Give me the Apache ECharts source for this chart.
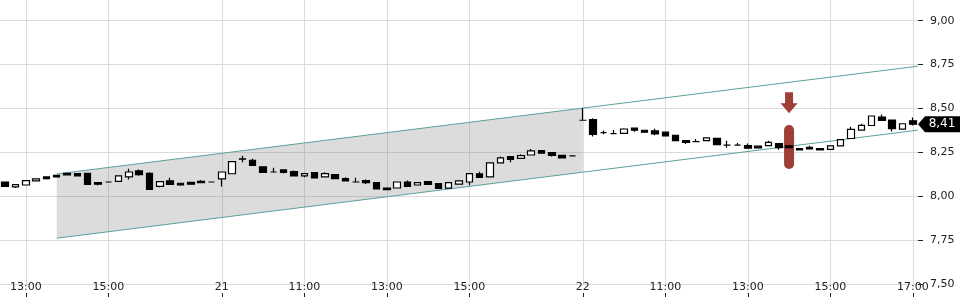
<!DOCTYPE html>
<html><head><meta charset="utf-8">
<script src="https://cdn.jsdelivr.net/npm/echarts@6/dist/echarts.min.js"></script>
<style>html,body{margin:0;padding:0;background:#fff}#c{width:960px;height:300px}</style>
</head><body><div id="c"></div>
<script>
const day20 = ['12:30','12:45','13:00','13:15','13:30','13:45','14:00','14:15','14:30','14:45','15:00','15:15','15:30','15:45','16:00','16:15','16:30','16:45','17:00','17:15','17:30'];
const day21 = ['09:00','09:15','09:30','09:45','10:00','10:15','10:30','10:45','11:00','11:15','11:30','11:45','12:00','12:15','12:30','12:45','13:00','13:15','13:30','13:45','14:00','14:15','14:30','14:45','15:00','15:15','15:30','15:45','16:00','16:15','16:30','16:45','17:00','17:15','17:30'];
const day22 = ['09:00','09:15','09:30','09:45','10:00','10:15','10:30','10:45','11:00','11:15','11:30','11:45','12:00','12:15','12:30','12:45','13:00','13:15','13:30','13:45','14:00','14:15','14:30','14:45','15:00','15:15','15:30','15:45','16:00','16:15','16:30','16:45','17:00'];
const times = [].concat(day20.map(t => '20 ' + t), day21.map(t => '21 ' + t), day22.map(t => '22 ' + t));

const opens  = [8.081,8.053,8.064,8.087,8.110,8.119,8.130,8.129,8.130,8.077,8.081,8.085,8.110,8.144,8.130,8.056,8.087,8.074,8.079,8.085,8.081,
  8.099,8.128,8.213,8.205,8.167,8.138,8.150,8.140,8.116,8.134,8.110,8.123,8.100,8.081,8.089,8.077,8.047,8.047,8.081,8.064,8.083,8.072,8.046,8.069,8.081,8.127,8.110,8.190,8.226,8.216,8.235,8.260,8.248,8.233,8.230,
  8.433,8.437,8.362,8.357,8.358,8.388,8.376,8.372,8.365,8.347,8.317,8.311,8.317,8.330,8.291,8.291,8.289,8.285,8.288,8.300,8.287,8.271,8.279,8.271,8.267,8.287,8.329,8.377,8.403,8.451,8.434,8.382,8.430];
const closes = [8.056,8.066,8.089,8.099,8.100,8.110,8.122,8.116,8.068,8.069,8.081,8.116,8.138,8.123,8.039,8.083,8.068,8.065,8.069,8.077,8.081,
  8.138,8.197,8.212,8.176,8.136,8.138,8.136,8.116,8.129,8.104,8.129,8.100,8.087,8.081,8.077,8.042,8.038,8.081,8.056,8.077,8.068,8.045,8.077,8.088,8.129,8.108,8.190,8.218,8.210,8.231,8.258,8.245,8.233,8.218,8.230,
  8.433,8.353,8.362,8.357,8.383,8.376,8.365,8.355,8.344,8.317,8.307,8.311,8.332,8.294,8.291,8.291,8.274,8.276,8.307,8.277,8.277,8.264,8.269,8.264,8.287,8.322,8.381,8.404,8.457,8.432,8.385,8.413,8.410];
const lows   = [8.055,8.047,8.064,8.087,8.096,8.108,8.121,8.116,8.068,8.062,8.081,8.085,8.096,8.117,8.039,8.051,8.068,8.060,8.066,8.077,8.081,
  8.056,8.128,8.193,8.176,8.136,8.138,8.129,8.116,8.108,8.104,8.110,8.100,8.087,8.081,8.070,8.042,8.038,8.047,8.056,8.064,8.068,8.045,8.046,8.069,8.062,8.108,8.110,8.190,8.193,8.216,8.235,8.245,8.227,8.218,8.230,
  8.433,8.340,8.353,8.357,8.358,8.368,8.361,8.347,8.344,8.317,8.298,8.311,8.317,8.294,8.276,8.288,8.271,8.276,8.288,8.265,8.277,8.264,8.269,8.264,8.267,8.287,8.329,8.377,8.403,8.432,8.369,8.382,8.403];
const highs  = [8.081,8.066,8.089,8.102,8.110,8.119,8.130,8.129,8.130,8.077,8.081,8.116,8.157,8.152,8.136,8.083,8.106,8.074,8.082,8.093,8.081,
  8.138,8.199,8.231,8.214,8.167,8.163,8.150,8.146,8.129,8.134,8.136,8.123,8.108,8.106,8.096,8.077,8.047,8.081,8.089,8.077,8.083,8.072,8.077,8.088,8.129,8.140,8.190,8.227,8.226,8.239,8.269,8.260,8.248,8.233,8.230,
  8.502,8.444,8.375,8.378,8.388,8.388,8.376,8.384,8.365,8.347,8.317,8.326,8.332,8.330,8.316,8.303,8.300,8.285,8.316,8.300,8.287,8.271,8.287,8.271,8.287,8.322,8.396,8.413,8.457,8.465,8.434,8.413,8.449];

const tickTimes  = ['20 13:00','20 15:00','21 09:00','21 11:00','21 13:00','21 15:00','22 09:00','22 11:00','22 13:00','22 15:00','22 17:00'];
const tickLabels = ['13:00','15:00','21','11:00','13:00','15:00','22','11:00','13:00','15:00','17:00'];
const yTicks = [7.5, 7.75, 8.0, 8.25, 8.5, 8.75, 9.0];

const channelTimes = ['20 13:45', '22 09:00'];
const channelUpper = [8.127, 8.502];
const channelLower = [7.761, 8.137];

const signalTime = '22 14:00';
const signalPill = 8.281;
const signalArrow = 8.532;

// ---- build ----
const n = times.length;
const tickIdx = tickTimes.map(t => times.indexOf(t));
const labelOf = {};
tickIdx.forEach((ix, k) => { labelOf[ix] = tickLabels[k]; });
const candles = times.map((t, i) => [i, opens[i], closes[i], lows[i], highs[i]]);

const cx0 = times.indexOf(channelTimes[0]);
const cx1 = times.indexOf(channelTimes[1]);
const xEnd = n - 0.5;
const slopeU = (channelUpper[1] - channelUpper[0]) / (cx1 - cx0);
const slopeL = (channelLower[1] - channelLower[0]) / (cx1 - cx0);
const upperLine = [[cx0, channelUpper[0]], [cx1, channelUpper[1]], [xEnd, channelUpper[1] + slopeU * (xEnd - cx1)]];
const lowerLine = [[cx0, channelLower[0]], [cx1, channelLower[1]], [xEnd, channelLower[1] + slopeL * (xEnd - cx1)]];
const sx = times.indexOf(signalTime);
const lastClose = closes[n - 1];
const fmt = v => v.toFixed(2).replace('.', ',');

const FONT = 'DejaVu Sans';
const chart = echarts.init(document.getElementById('c'), null, {renderer: 'canvas'});
chart.setOption({
  animation: false,
  backgroundColor: '#ffffff',
  grid: {left: 0, right: 42, top: 0, bottom: 16, containLabel: false, outerBoundsMode: 'none'},
  xAxis: {
    type: 'value', min: -0.5, max: xEnd, offset: 9,
    axisLine: {show: false, onZero: false},
    axisTick: {show: true, length: 4, customValues: tickIdx, lineStyle: {color: '#222', width: 1}},
    axisLabel: {show: true, inside: true, margin: 0, customValues: tickIdx,
      formatter: v => labelOf[Math.round(v)] || '', color: '#222', fontFamily: FONT, fontSize: 11},
    splitLine: {show: true, lineStyle: {color: '#dcdcdc', width: 1}}
  },
  yAxis: {
    type: 'value', position: 'right', min: 7.5, max: 9.118, scale: true,
    axisLine: {show: false, onZero: false},
    axisTick: {show: true, length: 5, customValues: yTicks, lineStyle: {color: '#222', width: 1}},
    axisLabel: {show: true, margin: 12, customValues: yTicks, formatter: v => fmt(v),
      color: '#222', fontFamily: FONT, fontSize: 11},
    splitLine: {show: true, lineStyle: {color: '#dcdcdc', width: 1}}
  },
  series: [
    {
      type: 'custom', z: 1, silent: true,
      data: [[cx0, cx1]],
      renderItem: (params, api) => {
        const pts = [
          api.coord([cx0, channelUpper[0]]),
          api.coord([cx1, channelUpper[1]]),
          api.coord([cx1, channelLower[1]]),
          api.coord([cx0, channelLower[0]])
        ];
        return {type: 'polygon', shape: {points: pts}, style: {fill: 'rgba(110,110,110,0.24)'}};
      }
    },
    {type: 'line', z: 2, data: upperLine, showSymbol: false, silent: true,
      lineStyle: {color: '#5e9fa1', width: 1}},
    {type: 'line', z: 2, data: lowerLine, showSymbol: false, silent: true,
      lineStyle: {color: '#5e9fa1', width: 1}},
    {
      type: 'scatter', z: 3, silent: true,
      data: [
        {value: [sx, signalPill], symbol: 'path://M0,5 A5,5 0 0 1 10,5 L10,39 A5,5 0 0 1 0,39 Z', symbolSize: [10, 44]},
        {value: [sx, signalArrow], symbol: 'path://M4.5,0 L12.5,0 L12.5,11 L17,11 L8.5,21 L0,11 L4.5,11 Z', symbolSize: [17, 21]}
      ],
      itemStyle: {color: '#9f3d37', opacity: 1}
    },
    {
      type: 'candlestick', z: 4,
      dimensions: ['x', 'open', 'close', 'low', 'high'],
      encode: {x: 0, y: [1, 2, 3, 4]},
      data: candles,
      barWidth: 7,
      itemStyle: {color: '#ffffff', color0: '#000000', borderColor: '#000000', borderColor0: '#000000', borderWidth: 1.2},
      markPoint: {
        silent: true, animation: false,
        data: [{coord: [xEnd, lastClose], value: lastClose}],
        symbol: 'path://M0,8 L7,0 L42,0 L42,16 L7,16 Z',
        symbolSize: [42, 16],
        symbolOffset: [21, 0],
        itemStyle: {color: '#000000'},
        label: {show: true, position: 'inside', offset: [3, 0], formatter: p => fmt(p.value),
          color: '#ffffff', fontFamily: FONT, fontSize: 12}
      }
    }
  ]
});
</script></body></html>
